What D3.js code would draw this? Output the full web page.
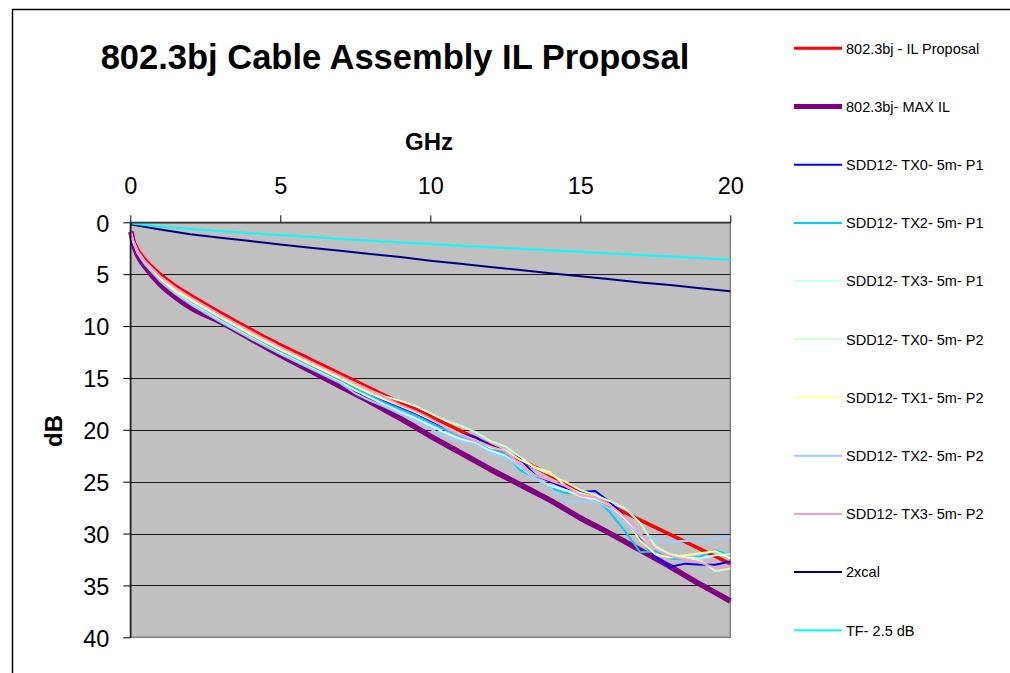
<!DOCTYPE html>
<html>
<head>
<meta charset="utf-8">
<script src="https://cdn.jsdelivr.net/npm/d3@7"></script>
<style>
  html, body { margin: 0; padding: 0; background: #fff; }
  svg { display: block; font-family: 'Liberation Sans', Arial, sans-serif; }
</style>
</head>
<body>
<svg id="chart"></svg>
<script>
// frequency grid (GHz) shared by the spec lines and the measured traces
const freq = [0.02, 0.1, 0.25, 0.5, 1, 1.5, 2, 3, 4, 5, 6, 7, 7.5, 8, 8.5, 9, 9.5, 10, 10.5, 11,
  11.5, 12, 12.5, 13, 13.5, 14, 14.5, 15, 15.5, 16, 16.5, 17, 17.5, 18, 18.5, 19, 19.5, 20]

// insertion loss, dB
const ilProposal = [0.9, 1.7, 2.6, 3.6, 5.0, 6.1, 7.0, 8.7, 10.3, 11.8, 13.2, 14.6, 15.3, 16.0, 16.7, 17.4, 18.0, 18.7, 19.4, 20.1,
  20.8, 21.5, 22.2, 22.9, 23.6, 24.4, 25.1, 25.9, 26.6, 27.3, 28.0, 28.7, 29.4, 30.1, 30.8, 31.5, 32.2, 32.9]
const maxIL = [0.9, 2.0, 3.2, 4.3, 6.0, 7.2, 8.2, 9.6, 11.2, 12.8, 14.3, 15.8, 16.55, 17.3, 18.1, 18.9, 19.75, 20.6, 21.4, 22.2,
  23.0, 23.8, 24.55, 25.3, 26.05, 26.8, 27.65, 28.5, 29.25, 30.0, 30.8, 31.6, 32.4, 33.2, 34.05, 34.9, 35.7, 36.5]

const tx0p1 = [1.0, 1.9, 2.9, 3.9, 5.5, 6.6, 7.6, 9.3, 10.9, 12.4, 13.8, 15.2, 15.9, 16.6, 17.3, 17.9, 18.5, 19.2, 19.9, 20.4,
  20.7, 21.5, 22.1, 22.8, 24.4, 25.0, 25.6, 26.0, 25.9, 27.0, 28.4, 30.6, 32.2, 33.2, 32.9, 33.0, 33.0, 32.7]
const tx2p1 = [1.0, 1.9, 2.9, 4.0, 5.6, 6.7, 7.7, 9.4, 11.0, 12.5, 13.9, 15.3, 16.0, 16.7, 17.4, 18.0, 18.6, 19.3, 20.0, 20.6,
  21.0, 21.9, 22.3, 23.9, 24.6, 25.6, 26.1, 26.2, 26.6, 28.0, 29.8, 31.8, 31.7, 32.4, 32.5, 32.2, 31.6, 32.1]
const tx3p1 = [1.0, 1.9, 3.0, 4.0, 5.6, 6.8, 7.8, 9.5, 11.1, 12.6, 14.0, 15.4, 16.2, 16.9, 17.6, 18.3, 18.9, 19.6, 20.3, 20.9,
  21.3, 22.0, 22.5, 23.6, 24.7, 25.4, 25.8, 26.4, 26.7, 27.3, 28.6, 30.2, 31.4, 32.0, 32.3, 32.4, 32.1, 32.0]
const tx0p2 = [1.0, 1.8, 2.8, 3.8, 5.3, 6.4, 7.3, 9.0, 10.6, 12.1, 13.5, 14.9, 15.5, 16.2, 16.8, 17.2, 17.7, 18.4, 19.1, 19.6,
  20.2, 21.1, 21.6, 22.6, 23.7, 24.3, 25.0, 25.8, 26.3, 26.9, 27.6, 29.0, 31.2, 32.0, 32.3, 32.6, 33.6, 33.4]
const tx1p2 = [1.0, 1.9, 2.9, 3.9, 5.5, 6.6, 7.5, 9.2, 10.8, 12.3, 13.7, 15.1, 15.8, 16.5, 17.1, 17.7, 18.3, 19.0, 19.7, 20.4,
  21.0, 21.7, 22.0, 22.9, 23.6, 24.1, 25.4, 26.1, 26.5, 27.3, 28.6, 30.7, 32.0, 32.3, 32.1, 31.9, 31.7, 32.4]
const tx2p2 = [1.0, 1.9, 3.0, 4.1, 5.7, 6.9, 7.9, 9.6, 11.2, 12.7, 14.1, 15.5, 16.5, 17.2, 17.8, 18.5, 19.1, 19.9, 20.7, 21.1,
  21.4, 22.3, 22.7, 23.5, 24.7, 25.6, 26.9, 26.9, 26.9, 27.6, 28.9, 30.2, 30.5, 30.8, 30.7, 30.8, 30.5, 30.3]
const tx3p2 = [1.0, 1.8, 2.8, 3.8, 5.2, 6.3, 7.2, 8.9, 10.5, 12.0, 13.4, 14.8, 15.5, 16.2, 16.9, 17.6, 18.2, 18.9, 19.8, 20.5,
  21.0, 21.6, 22.1, 23.3, 24.4, 24.9, 25.4, 26.3, 26.5, 27.3, 28.4, 30.0, 31.5, 32.2, 32.5, 32.8, 33.3, 33.2]

// fixture traces on a 1 GHz grid
const fixFreq = [0, 1, 2, 3, 4, 5, 6, 7, 8, 9, 10, 11, 12, 13, 14, 15, 16, 17, 18, 19, 20]
const cal2x = [0.2, 0.7, 1.15, 1.5, 1.8, 2.15, 2.45, 2.75, 3.05, 3.35, 3.7, 4.0, 4.3, 4.6, 4.9, 5.2, 5.5, 5.8, 6.05, 6.35, 6.65]
const tf25 = [0.1, 0.4, 0.65, 0.85, 1.05, 1.22, 1.4, 1.6, 1.78, 1.95, 2.1, 2.25, 2.4, 2.55, 2.7, 2.85, 3.0, 3.15, 3.3, 3.45, 3.6]

const xTicks = [0, 5, 10, 15, 20]
const yTicks = [0, 5, 10, 15, 20, 25, 30, 35, 40]

const series = [
  { name: '802.3bj - IL Proposal', x: freq, y: ilProposal, color: '#ff0000', width: 3.5, smooth: true },
  { name: '802.3bj- MAX IL', x: freq, y: maxIL, color: '#800080', width: 5.5, smooth: true },
  { name: 'SDD12- TX0- 5m- P1', x: freq, y: tx0p1, color: '#0000ff', width: 2 },
  { name: 'SDD12- TX2- 5m- P1', x: freq, y: tx2p1, color: '#00ccff', width: 2 },
  { name: 'SDD12- TX3- 5m- P1', x: freq, y: tx3p1, color: '#ccffff', width: 2 },
  { name: 'SDD12- TX0- 5m- P2', x: freq, y: tx0p2, color: '#ccffcc', width: 2 },
  { name: 'SDD12- TX1- 5m- P2', x: freq, y: tx1p2, color: '#ffff99', width: 2 },
  { name: 'SDD12- TX2- 5m- P2', x: freq, y: tx2p2, color: '#99ccff', width: 2 },
  { name: 'SDD12- TX3- 5m- P2', x: freq, y: tx3p2, color: '#ff99cc', width: 2 },
  { name: '2xcal', x: fixFreq, y: cal2x, color: '#000080', width: 2 },
  { name: 'TF- 2.5 dB', x: fixFreq, y: tf25, color: '#00ffff', width: 2 },
]

const width = 1010
const height = 673
const plot = { left: 130.3, right: 730.3, top: 222.3, bottom: 637.3 }

const svg = d3.select('#chart').attr('width', width).attr('height', height)

const xScale = d3.scaleLinear().domain([0, 20]).range([plot.left, plot.right])
const yScale = d3.scaleLinear().domain([0, 40]).range([plot.top, plot.bottom])

// chart frame (only top and left edges visible)
svg.append('path')
  .attr('d', `M12.5,${height} L12.5,9.5 L${width},9.5`)
  .attr('fill', 'none')
  .attr('stroke', '#000')
  .attr('stroke-width', 1.5)

// plot area
svg.append('rect')
  .attr('x', plot.left)
  .attr('y', plot.top)
  .attr('width', plot.right - plot.left)
  .attr('height', plot.bottom - plot.top)
  .attr('fill', '#c0c0c0')
  .attr('stroke', '#808080')
  .attr('stroke-width', 1.5)

// horizontal gridlines
svg.append('g')
  .selectAll('line')
  .data(yTicks.filter((d) => d > 0 && d < 40))
  .enter()
  .append('line')
  .attr('x1', plot.left)
  .attr('x2', plot.right)
  .attr('y1', (d) => Math.round(yScale(d)) + 0.5)
  .attr('y2', (d) => Math.round(yScale(d)) + 0.5)
  .attr('stroke', '#1a1a1a')
  .attr('stroke-width', 1)

// series
const plotG = svg.append('g')
series.forEach((s) => {
  const pts = s.x.map((f, i) => [f, s.y[i]])
  const line = d3.line()
    .x((d) => xScale(d[0]))
    .y((d) => yScale(d[1]))
    .curve(s.smooth ? d3.curveMonotoneX : d3.curveLinear)
  plotG.append('path')
    .datum(pts)
    .attr('d', line)
    .attr('fill', 'none')
    .attr('stroke', s.color)
    .attr('stroke-width', s.width)
    .attr('stroke-linejoin', 'round')
})

// axes
const axisX = d3.axisTop(xScale).tickValues(xTicks).tickSize(7).tickSizeOuter(0).tickPadding(21)
const gx = svg.append('g')
  .attr('transform', `translate(0,${plot.top})`)
  .call(axisX)
gx.selectAll('text').style('font-size', '23.5px').attr('fill', '#000')
gx.selectAll('line').attr('stroke', '#000')
gx.select('.domain').attr('stroke', '#333').attr('stroke-width', 1.5)

const axisY = d3.axisLeft(yScale).tickValues(yTicks).tickSize(7).tickSizeOuter(0).tickPadding(14)
const gy = svg.append('g')
  .attr('transform', `translate(${plot.left},0)`)
  .call(axisY)
gy.selectAll('text').style('font-size', '23.5px').attr('dy', '0.37em').attr('fill', '#000')
gy.selectAll('line').attr('stroke', '#000')
gy.select('.domain').attr('stroke', '#000').attr('stroke-width', 1.2)

// titles
svg.append('text')
  .attr('x', 395)
  .attr('y', 69)
  .attr('text-anchor', 'middle')
  .style('font-size', '34.5px')
  .style('font-weight', 'bold')
  .text('802.3bj Cable Assembly IL Proposal')

svg.append('text')
  .attr('x', 429)
  .attr('y', 150)
  .attr('text-anchor', 'middle')
  .style('font-size', '24px')
  .style('font-weight', 'bold')
  .text('GHz')

svg.append('text')
  .attr('transform', 'translate(62,431) rotate(-90)')
  .attr('text-anchor', 'middle')
  .style('font-size', '24px')
  .style('font-weight', 'bold')
  .text('dB')

// legend
const legend = svg.append('g')
const rowY = (i) => 48.3 + i * 58.2
series.forEach((s, i) => {
  legend.append('line')
    .attr('x1', 794)
    .attr('x2', 842)
    .attr('y1', rowY(i))
    .attr('y2', rowY(i))
    .attr('stroke', s.color)
    .attr('stroke-width', s.width === 2 ? 2 : s.width - 0.5)
  legend.append('text')
    .attr('x', 846)
    .attr('y', rowY(i) + 5.2)
    .style('font-size', '14.5px')
    .attr('fill', '#000')
    .text(s.name)
})
</script>
</body>
</html>
